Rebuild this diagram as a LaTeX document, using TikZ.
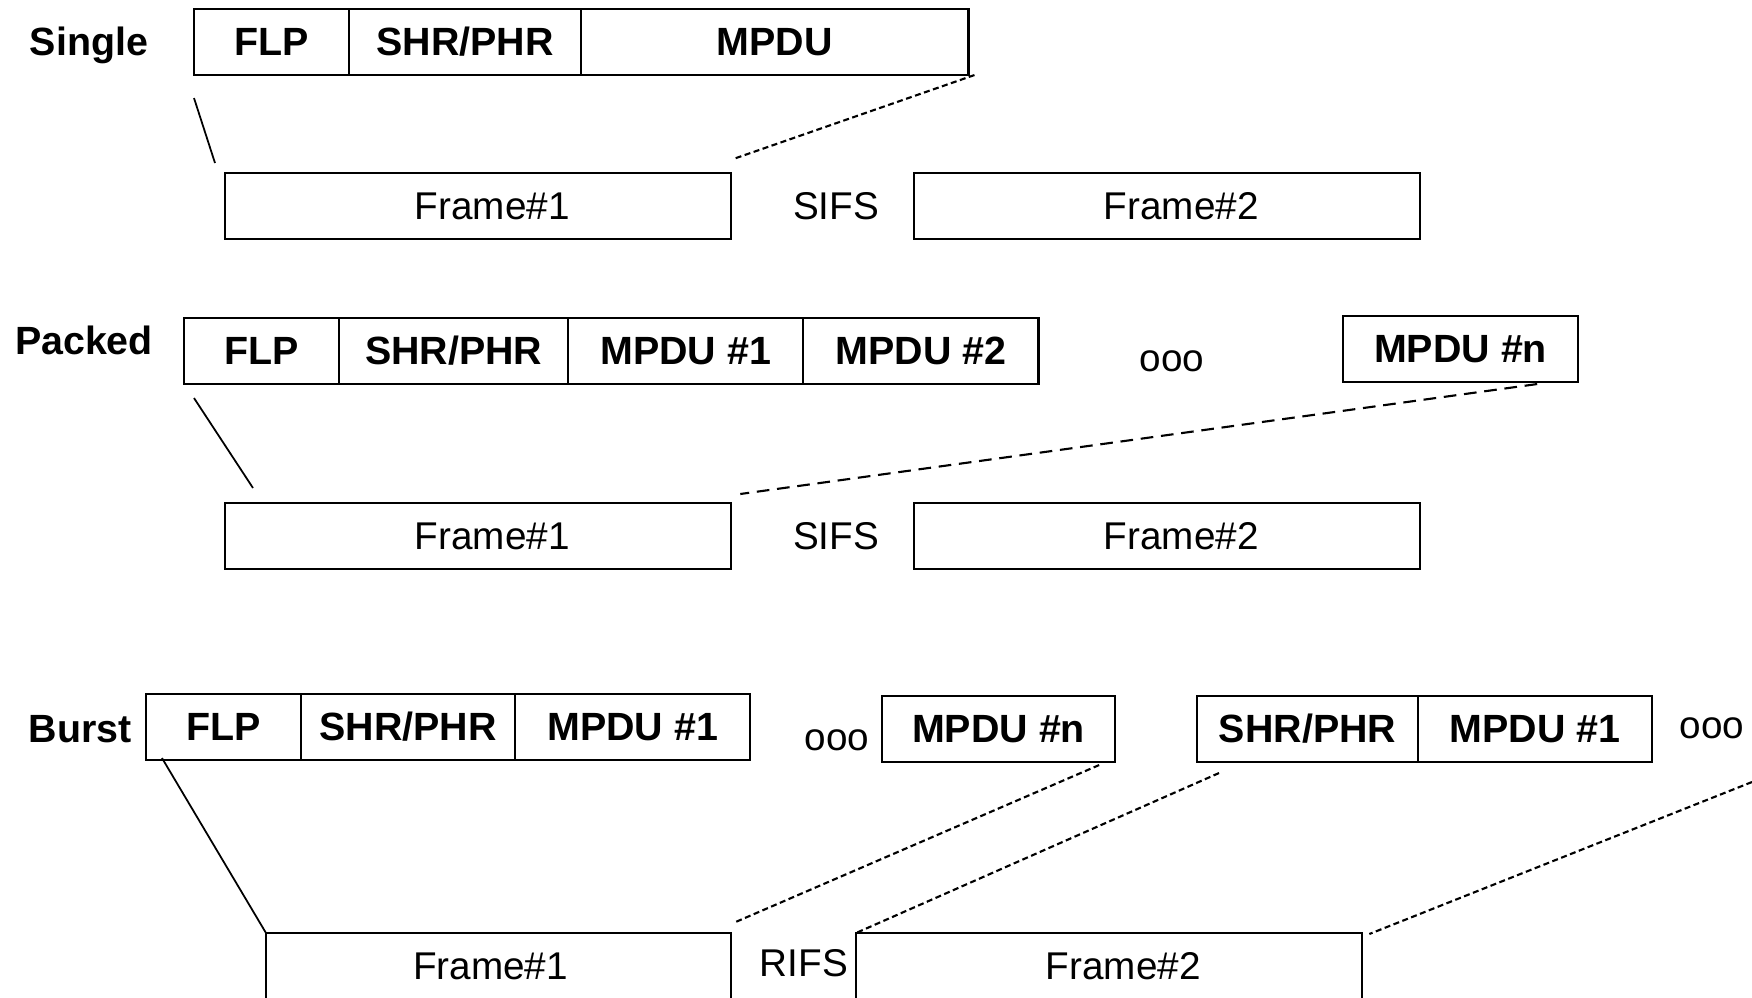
\documentclass[tikz,border=0pt]{standalone}
\usepackage{fontspec}
\setmainfont{Liberation Sans}
\usetikzlibrary{positioning,calc}
\tikzset{
  fieldbox/.style={draw,line width=0.6pt,minimum height=0.66cm,inner sep=0pt,outer sep=0pt,
    font=\fontsize{11.2}{13}\selectfont\bfseries},
  framebox/.style={draw,line width=0.6pt,minimum height=0.66cm,minimum width=5.06cm,
    inner sep=0pt,outer sep=0pt,font=\fontsize{11}{13}\selectfont,
    execute at begin node={\hspace*{#1}}},
  framebox/.default=0.28cm,
  rowlabel/.style={font=\fontsize{11.2}{13}\selectfont\bfseries,inner sep=0pt},
  gaptext/.style={font=\fontsize{11}{13}\selectfont,inner sep=0pt},
  link/.style={line width=0.5pt},
  densedash/.style={line width=0.6pt,dash pattern=on 1.7pt off 1pt},
  longdash/.style={line width=0.6pt,dash pattern=on 3.6pt off 2.2pt}
}
\begin{document}
\begin{tikzpicture}[x=0.01cm,y=-0.01cm]
  \useasboundingbox (0,0) rectangle (1752,997);
  \clip (0,0) rectangle (1752,997);
  % single frame
  \node[rowlabel] (lbl-single) at (89,45) {Single};
  \node[fieldbox,minimum width=1.55cm,anchor=north west] (s-flp) at (194,9) {FLP};
  \node[fieldbox,minimum width=2.32cm,right=0pt of s-flp] (s-shr) {SHR/PHR};
  \node[fieldbox,minimum width=3.87cm,right=0pt of s-shr] (s-mpdu) {MPDU};
  \node[framebox,anchor=north west] (s-f1) at (225,173) {Frame\#1};
  \node[gaptext] (s-sifs) at (836,206) {SIFS};
  \node[framebox,anchor=north west] (s-f2) at (914,173) {Frame\#2};
  \draw[link] ([shift={(0,23)}]s-flp.south west) -- ([shift={(-10,-10)}]s-f1.north west);
  \draw[densedash] ([shift={(6,0)}]s-mpdu.south east) -- ([shift={(2,-14)}]s-f1.north east);
  % packed frame
  \node[rowlabel] (lbl-packed) at (84,340) {Packed};
  \node[fieldbox,minimum width=1.55cm,anchor=north west] (p-flp) at (184,318) {FLP};
  \node[fieldbox,minimum width=2.29cm,right=0pt of p-flp] (p-shr) {SHR/PHR};
  \node[fieldbox,minimum width=2.35cm,right=0pt of p-shr] (p-mpdu1) {MPDU \#1};
  \node[fieldbox,minimum width=2.35cm,right=0pt of p-mpdu1] (p-mpdu2) {MPDU \#2};
  \node[gaptext] (p-dots) at (1172,361) {ooo};
  \node[fieldbox,minimum width=2.35cm,anchor=north west] (p-mpdun) at (1343,316) {MPDU \#n};
  \node[framebox,anchor=north west] (p-f1) at (225,503) {Frame\#1};
  \node[gaptext] (p-sifs) at (836,536) {SIFS};
  \node[framebox,anchor=north west] (p-f2) at (914,503) {Frame\#2};
  \draw[link] ([shift={(10,14)}]p-flp.south west) -- ([shift={(28,-15)}]p-f1.north west);
  \draw[longdash] ([shift={(-41,2)}]p-mpdun.south east) -- ([shift={(9,-9)}]p-f1.north east);
  % burst
  \node[rowlabel] (lbl-burst) at (80,729) {Burst};
  \node[fieldbox,minimum width=1.55cm,anchor=north west] (b-flp) at (146,694) {FLP};
  \node[fieldbox,minimum width=2.14cm,right=0pt of b-flp] (b-shr) {SHR/PHR};
  \node[fieldbox,minimum width=2.35cm,right=0pt of b-shr] (b-mpdu1) {MPDU \#1};
  \node[gaptext] (b-dots1) at (837,740) {ooo};
  \node[fieldbox,minimum width=2.33cm,anchor=north west] (b-mpdun) at (882,696) {MPDU \#n};
  \node[fieldbox,minimum width=2.21cm,anchor=north west] (b-shr2) at (1197,696) {SHR/PHR};
  \node[fieldbox,minimum width=2.34cm,right=0pt of b-shr2] (b-mpdu1b) {MPDU \#1};
  \node[gaptext] (b-dots2) at (1712,728) {ooo};
  \node[framebox=-0.16cm,minimum width=4.65cm,anchor=north west] (b-f1) at (266,933) {Frame\#1};
  \node[gaptext] (b-rifs) at (804,963) {RIFS};
  \node[framebox,anchor=north west] (b-f2) at (856,933) {Frame\#2};
  \coordinate (b-edge) at (1752,782);
  \draw[link] ([shift={(16,-2)}]b-flp.south west) -- (b-f1.north west);
  \draw[densedash] ([shift={(-16,3)}]b-mpdun.south east) -- ([shift={(2,-10)}]b-f1.north east);
  \draw[densedash] ([shift={(22,11)}]b-shr2.south west) -- (b-f2.north west);
  \draw[densedash] (b-edge) -- ([shift={(7,1)}]b-f2.north east);
\end{tikzpicture}
\end{document}
